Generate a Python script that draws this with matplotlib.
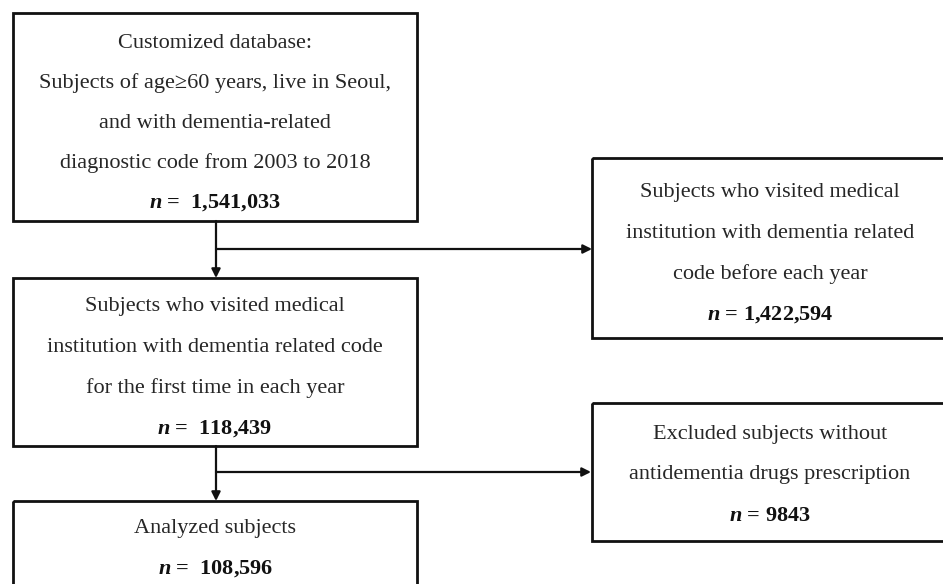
import matplotlib.pyplot as plt
from matplotlib.patches import Rectangle

plt.rcParams['font.family'] = ['Liberation Serif', 'DejaVu Serif']
plt.rcParams['mathtext.fontset'] = 'custom'
plt.rcParams['mathtext.bfit'] = 'Liberation Serif:italic:bold'
plt.rcParams['mathtext.rm'] = 'Liberation Serif'

# box contents
labels = [
    ['Customized database:',
     'Subjects of age\u226560 years, live in Seoul,',
     'and with dementia-related',
     'diagnostic code from 2003 to 2018'],
    ['Subjects who visited medical',
     'institution with dementia related code',
     'for the first time in each year'],
    ['Analyzed subjects'],
    ['Subjects who visited medical',
     'institution with dementia related',
     'code before each year'],
    ['Excluded subjects without',
     'antidementia drugs prescription'],
]
counts = ['1,541,033', '118,439', '108,596', '1,422,594', '9843']
gaps = ['  ', '  ', '  ', ' ', ' ']

# layout in pixels: x0, y0, x1, y1, first text line, line step
boxes = [
    (13, 13, 417, 221, 43, 40),
    (13, 278, 417, 446, 306, 41),
    (13, 501, 417, 600, 529, 40),
    (592, 158, 950, 338, 193, 40.5),
    (592, 403, 950, 541, 434, 41),
]

fig = plt.figure(figsize=(9.43, 5.84), dpi=100)
ax = fig.add_axes([0, 0, 1, 1])
ax.set_xlim(0, 943)
ax.set_ylim(584, 0)
ax.axis('off')

for (x0, y0, x1, y1, ty, dy), lines, c, g in zip(boxes, labels, counts, gaps):
    ax.add_patch(Rectangle((x0, y0), x1 - x0, y1 - y0, fill=False, ec='#111111', lw=2))
    cx = (x0 + x1) / 2
    if x1 > 943:
        cx = 770
    for i, s in enumerate(lines):
        ax.text(cx, ty + i * dy, s, ha='center', va='center', fontsize=16, color='#262626')
    ax.text(cx, ty + len(lines) * dy, r'$\mathbfit{n}$ =' + g + c, ha='center', va='center',
            fontsize=16, fontweight='bold', color='#111111')

arr = dict(arrowstyle='-|>', lw=1.6, color='#111111', mutation_scale=13, shrinkA=0, shrinkB=0)
vx = 216
# main flow
ax.annotate('', xy=(vx, 278), xytext=(vx, 221), arrowprops=arr)
ax.annotate('', xy=(vx, 501), xytext=(vx, 446), arrowprops=arr)
# exclusions
ax.annotate('', xy=(592, 249), xytext=(vx, 249), arrowprops=arr)
ax.annotate('', xy=(591, 472), xytext=(vx, 472), arrowprops=arr)

fig.savefig('out.png', dpi=100)
